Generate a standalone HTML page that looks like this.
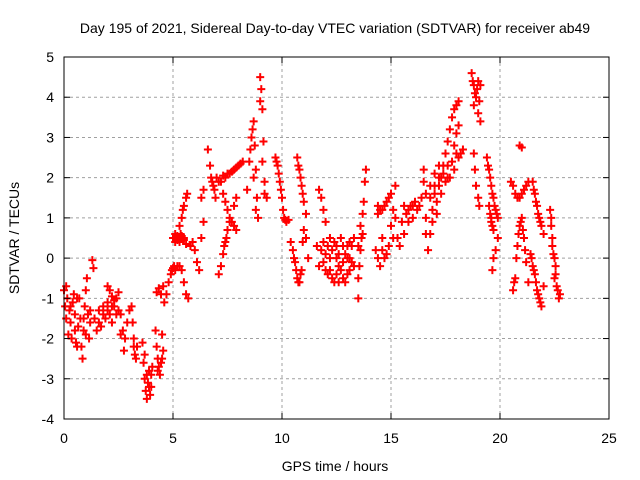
<!DOCTYPE html>
<html><head><meta charset="utf-8"><style>
body{margin:0;background:#fff;}
svg{display:block;font-family:"Liberation Sans",sans-serif;}
</style></head><body>
<svg id="chart" width="640" height="480">
<text x="335" y="33" font-size="14" text-anchor="middle">Day 195 of 2021, Sidereal Day-to-day VTEC variation (SDTVAR) for receiver ab49</text>
<text x="335" y="471" font-size="14" text-anchor="middle">GPS time / hours</text>
<text x="19" y="238" font-size="14" text-anchor="middle" transform="rotate(-90 19 238)">SDTVAR / TECUs</text>
<g id="grid"></g><g id="marks"></g><g id="axes"></g>
</svg>
<script>
const xTicks=[0,5,10,15,20,25];
const yTicks=[-4,-3,-2,-1,0,1,2,3,4,5];
const hours=[0.0,0.05,0.1,0.15,0.2,0.25,0.3,0.35,0.4,0.45,0.5,0.55,0.6,0.65,0.7,0.75,
0.8,0.85,0.9,0.95,1.0,1.05,1.1,1.15,1.2,1.3,1.35,
1.4,1.5,1.6,1.7,1.8,1.9,2.0,2.1,2.2,2.3,2.4,
2.0,2.1,2.2,2.3,2.4,2.5,
2.6,2.7,2.75,2.8,2.9,3.0,
3.1,3.15,3.2,3.25,3.3,3.35,
3.6,3.65,3.7,3.75,3.8,3.85,3.9,3.95,4.0,4.05,
4.2,4.25,4.3,4.35,4.4,4.45,4.5,4.55,
4.25,4.35,4.45,4.55,
4.6,4.7,4.8,4.9,5.0,
5.0,5.1,5.2,5.3,5.4,5.5,5.6,
5.3,5.4,5.5,5.6,5.65,
5.1,5.2,5.3,5.4,5.5,5.6,5.7,
5.8,5.9,6.0,6.1,6.2,6.3,6.4,
6.3,6.4,
6.6,6.7,6.8,6.9,6.95,
7.0,7.2,7.4,7.6,7.8,8.0,8.2,
7.3,7.5,7.7,7.9,
7.1,7.2,7.3,7.4,7.5,7.6,7.8,7.9,
8.4,8.5,8.6,8.7,8.75,8.8,8.85,8.9,9.0,9.0,9.05,9.1,9.15,9.2,9.3,
9.7,9.8,9.9,10.0,10.1,10.2,10.3,
10.7,10.8,10.9,11.0,11.1,
10.4,10.5,10.6,10.7,10.8,10.9,11.0,11.1,11.2,
11.7,11.8,11.9,12.0,
11.8,11.9,12.0,12.1,12.2,12.3,12.4,12.5,12.6,12.7,12.8,12.9,13.0,13.1,13.2,13.3,12.4,12.6,13.0,
13.5,13.55,13.6,13.65,13.7,13.75,13.8,13.85,13.5,13.5,
14.4,14.6,14.8,15.0,15.2,
14.3,14.5,14.7,14.9,15.1,14.6,
15.3,15.5,15.7,15.9,16.1,16.3,15.4,15.6,15.8,16.0,
16.5,16.5,16.6,16.7,16.8,16.6,16.9,
16.8,17.0,17.2,17.3,17.4,17.5,17.6,17.7,17.8,17.9,18.0,18.1,17.0,17.2,17.4,17.6,17.8,18.0,18.1,17.9,18.0,18.1,
18.7,18.8,18.9,19.0,19.1,18.8,19.0,19.1,
18.8,18.85,18.9,19.0,19.05,
19.4,19.5,19.6,19.7,19.8,19.9,19.5,19.6,19.7,19.6,
19.9,19.8,19.7,19.65,
20.5,20.7,20.9,21.1,21.3,
20.9,21.0,
20.6,20.7,20.8,20.9,21.0,21.1,21.2,21.3,
21.5,21.6,21.7,21.8,21.9,22.0,
21.4,21.5,21.6,21.7,21.8,21.9,22.0,
22.3,22.35,22.4,22.5,22.55,22.6,22.7,22.5];
const values=[-0.8,-1.2,-1.5,-1.0,-1.9,-1.3,-1.6,-2.0,-1.1,-0.9,-1.4,-2.1,-2.2,-1.7,-1.0,-1.5,
-2.2,-2.5,-1.8,-1.2,-0.8,-0.5,-1.4,-2.0,-1.6,-0.05,-0.25,
-1.5,-1.8,-1.3,-1.7,-1.2,-1.5,-1.1,-1.4,-1.6,-1.2,-1.4,
-0.7,-0.8,-0.95,-1.05,-1.0,-0.85,
-1.4,-1.8,-2.3,-2.0,-1.6,-1.3,
-1.2,-1.6,-2.0,-2.4,-2.5,-2.2,
-2.1,-2.6,-3.0,-3.3,-3.5,-3.1,-2.8,-3.4,-3.2,-2.7,
-1.8,-2.2,-2.5,-2.7,-2.9,-2.6,-1.9,-2.3,
-0.85,-0.75,-0.9,-0.7,
-1.1,-0.9,-0.6,-0.4,-0.25,
0.5,0.6,0.45,0.4,0.55,0.45,0.35,
0.8,1.0,1.3,1.5,1.6,
-0.3,-0.2,-0.2,-0.3,-0.6,-0.9,-1.0,
0.3,0.4,0.2,-0.1,-0.3,0.5,0.9,
1.5,1.7,
2.7,2.3,1.9,1.7,1.5,
2.0,1.9,2.0,2.1,2.2,2.3,2.4,
1.6,1.2,0.9,0.7,
-0.4,-0.2,0.1,0.4,0.7,0.9,1.3,1.5,
1.7,2.4,3.0,3.4,2.8,2.2,1.5,1.0,3.9,4.5,4.2,3.7,2.9,1.9,1.5,
2.5,2.3,1.9,1.5,1.0,0.9,0.95,
2.5,2.2,1.8,1.4,1.1,
0.4,0.2,-0.1,-0.5,-0.6,-0.3,0.7,0.5,0.0,
1.7,1.5,1.2,0.9,
0.2,-0.1,-0.3,-0.4,0.0,-0.5,-0.6,0.3,-0.2,0.5,-0.5,0.1,-0.4,0.4,-0.1,0.5,0.4,-0.6,0.3,
0.3,-0.2,0.8,0.5,1.1,1.4,1.9,2.2,-0.5,-1.0,
1.1,1.2,1.4,1.6,1.8,
0.2,-0.2,0.0,0.3,0.5,0.5,
0.5,0.9,1.1,1.3,1.4,1.3,0.3,0.6,0.9,1.0,
2.2,1.9,0.6,0.2,0.6,1.0,1.2,
1.5,1.6,1.8,2.0,2.3,2.6,2.9,3.2,3.5,3.7,3.8,3.9,1.8,2.0,2.1,2.3,2.4,2.6,2.5,2.8,3.1,3.3,
4.6,4.3,4.0,4.4,4.3,3.8,3.6,3.4,
2.6,2.2,1.8,1.5,1.3,
2.5,2.2,1.8,1.5,1.2,1.0,1.3,0.9,0.7,1.0,
0.5,0.2,0.0,-0.3,
1.9,1.6,1.5,1.7,1.9,
2.8,2.75,
-0.8,-0.5,0.3,0.8,1.0,0.5,-0.1,-0.6,
1.9,1.6,1.3,1.0,0.8,0.6,
0.1,-0.2,-0.4,-0.8,-1.0,-1.2,-0.7,
1.2,0.8,0.3,0.0,-0.4,-0.7,-1.0,-0.5];
const extraHours=[11.6,11.7,11.9,12.0,12.1,12.2,12.3,12.5,12.6,12.7,12.8,12.9,13.0,13.1,13.2,13.3,12.2,12.5,12.8,13.1,
15.6,15.8,16.0,16.2,16.4,16.6,16.8,17.0,17.1,17.3,17.5,17.7,17.9,18.2,18.3,17.2,17.6,16.9,17.1,15.2,15.1,15.0,
0.1,0.3,0.5,0.6,0.9,1.0,1.2,1.6,1.8,2.0,2.2,2.5,2.6,3.2,3.7,3.8,3.9,4.0,4.3,4.5,
5.1,5.2,5.3,5.5,5.45,5.35,4.95,5.05,
6.75,6.85,7.1,7.3,7.5,7.7,7.9,8.1,7.4,7.6,7.8,7.35,7.45,
8.55,8.65,8.7,8.8,9.1,9.2,9.75,9.85,9.95,10.05,10.15,
10.55,10.65,10.75,10.85,10.95,10.75,10.85,10.95,
13.6,13.7,14.4,14.5,14.7,14.9,14.4,14.6,14.8,
18.75,18.85,18.95,19.05,19.45,19.55,19.65,19.75,19.85,19.55,19.65,
20.65,20.75,20.85,20.95,21.05,21.15,20.6,20.8,21.0,21.2,21.55,21.65,21.75,21.85,21.45,21.55,21.65,21.75,21.85,22.35,22.45,22.55,22.65,22.75,22.4];
const extraValues=[0.3,-0.2,0.4,0.1,0.3,-0.3,0.2,-0.4,0.1,-0.3,0.3,-0.6,0.0,-0.3,0.3,-0.2,0.5,0.0,-0.1,0.0,
1.3,1.2,1.3,1.2,1.5,1.6,1.8,2.1,1.4,1.6,1.9,2.0,2.2,2.6,2.7,2.3,2.0,0.9,1.1,1.0,1.2,0.8,
-0.7,-1.2,-1.8,-1.0,-1.5,-1.9,-1.3,-1.6,-1.4,-1.3,-1.2,-1.3,-1.9,-2.2,-2.4,-2.9,-3.2,-2.9,-2.8,-2.5,
0.4,0.55,0.5,0.5,1.2,0.6,-0.3,-0.2,
2.0,1.8,1.9,2.05,2.1,2.15,2.25,2.35,1.4,1.0,0.8,0.3,0.5,
2.7,3.2,2.0,1.2,2.4,1.6,2.4,2.1,1.7,1.2,0.95,
0.0,-0.3,-0.6,-0.4,0.4,2.3,2.0,1.6,
0.2,0.6,1.3,1.2,1.3,1.5,0.0,0.2,0.1,
4.4,4.1,4.2,3.9,2.3,2.0,1.6,1.3,1.1,1.1,0.8,
-0.6,0.0,0.6,0.9,0.7,0.2,1.8,1.5,1.6,1.8,1.7,1.4,1.1,0.9,0.0,-0.3,-0.6,-0.9,-1.1,1.0,0.1,-0.2,-0.8,-0.9,0.5];

const L=64,R=609,T=57,B=419;
const xs=t=>L+(t-0)/25*(R-L);
const ys=v=>B-(v+4)/9*(B-T);
const NS="http://www.w3.org/2000/svg";
function mk(tag,at,parent){const e=document.createElementNS(NS,tag);for(const k in at)e.setAttribute(k,at[k]);parent.appendChild(e);return e;}
const grid=document.getElementById('grid'),axes=document.getElementById('axes'),marks=document.getElementById('marks');
xTicks.forEach(t=>{
  const x=xs(t);
  if(t>0&&t<25){const g=mk('line',{x1:x,x2:x,y1:T,y2:B,stroke:'#a0a0a0','stroke-dasharray':'3,3'},grid);
  
  }
  mk('line',{x1:x,x2:x,y1:B,y2:B-6,stroke:'#000'},axes);
  mk('line',{x1:x,x2:x,y1:T,y2:T+6,stroke:'#000'},axes);
  const tx=mk('text',{x:x,y:B+24,'font-size':14,'text-anchor':'middle'},axes);tx.textContent=t;
  
  
});
yTicks.forEach(v=>{
  const y=ys(v);
  if(v>-4&&v<5){const g=mk('line',{x1:L,x2:R,y1:y,y2:y,stroke:'#a0a0a0','stroke-dasharray':'3,3'},grid);
  
  }
  mk('line',{x1:L,x2:L+6,y1:y,y2:y,stroke:'#000'},axes);
  mk('line',{x1:R,x2:R-6,y1:y,y2:y,stroke:'#000'},axes);
  const tx=mk('text',{x:L-10,y:y+5,'font-size':14,'text-anchor':'end'},axes);tx.textContent=v;
  
  
});
const box=mk('rect',{x:L,y:T,width:R-L,height:B-T,fill:'none',stroke:'#000'},axes);


const allH=hours.concat(extraHours), allV=values.concat(extraValues);
allH.forEach((t,i)=>{
  const x=xs(t),y=ys(allV[i]);
  const p=mk('path',{d:`M${x-4},${y}H${x+4}M${x},${y-4}V${y+4}`,stroke:'#ff0000','stroke-width':2,fill:'none'},marks);
  
  
});
</script>
</body></html>
